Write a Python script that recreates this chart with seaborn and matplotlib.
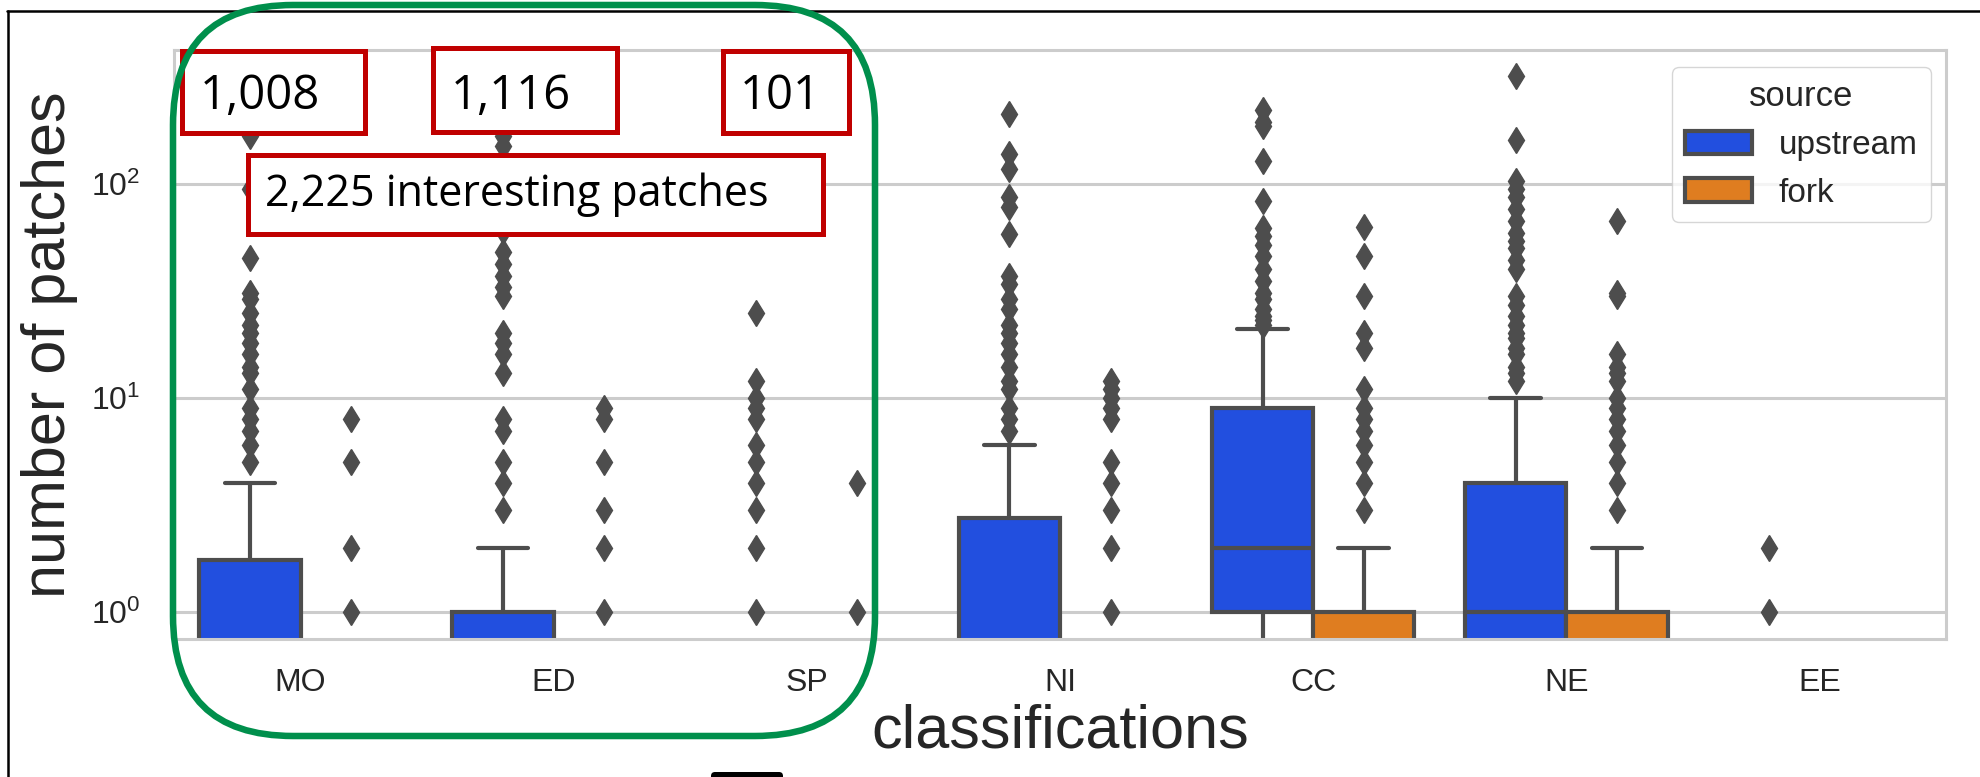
import numpy as np
import pandas as pd
import seaborn as sns
import matplotlib.pyplot as plt
from matplotlib.patches import Rectangle, FancyBboxPatch
from matplotlib.lines import Line2D
from matplotlib.transforms import IdentityTransform

W, H = 1980, 777

classes = ['MO', 'ED', 'SP', 'NI', 'CC', 'NE', 'EE']
sources = ['upstream', 'fork']

# how many entries have 0, 1, 2, ... patches, then the bigger values one by one
mo_up_low = [44, 17, 1, 1, 1]
mo_up_high = [5, 6, 7, 8, 9, 11, 13, 14, 16, 18, 20, 22, 25, 29, 31, 45, 94, 167]
mo_fk_low = [36, 1, 1]
mo_fk_high = [5, 8]

ed_up_low = [60, 20, 2]
ed_up_high = [3, 4, 5, 7, 8, 13, 16, 18, 20, 30, 33, 37, 42, 48, 60, 80, 110, 150, 167]
ed_fk_low = [40, 1, 1, 1]
ed_fk_high = [5, 8, 9]

sp_up_low = [60, 1, 1, 1, 1]
sp_up_high = [5, 6, 8, 9, 10, 12, 25]
sp_fk_low = [20, 1, 0, 0, 1]
sp_fk_high = []

ni_up_low = [52, 14, 7, 2, 1, 1, 1]
ni_up_high = [7, 8, 9, 11, 12, 14, 16, 18, 20, 22, 26, 29, 34, 37, 58, 78, 87, 117, 138, 211]
ni_fk_low = [40, 1, 1, 1, 1, 1]
ni_fk_high = [8, 9, 10, 11, 12]

cc_up_low = [15, 20, 17, 6, 5, 4, 3, 3, 2, 3]
cc_up_high = [11, 12, 14, 16, 18, 21, 22, 23, 24, 26, 29, 31, 35, 40, 46, 52, 57, 62, 83, 127, 186, 195, 221]
cc_fk_low = [55, 25, 8]
cc_fk_high = [3, 4, 5, 6, 7, 8, 9, 11, 17, 20, 30, 46, 63]

ne_up_low = [45, 30, 7, 6, 5, 1, 1, 1, 1, 0, 1]
ne_up_high = [12, 13, 14, 16, 17, 19, 20, 22, 24, 27, 30, 40, 44, 50, 54, 59, 67, 76, 87, 94, 103, 160, 317]
ne_fk_low = [55, 25, 6]
ne_fk_high = [3, 4, 5, 6, 7, 8, 9, 10, 12, 13, 14, 16, 30, 31, 67]

ee_up_low = [20, 1, 1]
ee_up_high = []
ee_fk_low = [10]
ee_fk_high = []

groups = [
    ('MO', 'upstream', mo_up_low, mo_up_high), ('MO', 'fork', mo_fk_low, mo_fk_high),
    ('ED', 'upstream', ed_up_low, ed_up_high), ('ED', 'fork', ed_fk_low, ed_fk_high),
    ('SP', 'upstream', sp_up_low, sp_up_high), ('SP', 'fork', sp_fk_low, sp_fk_high),
    ('NI', 'upstream', ni_up_low, ni_up_high), ('NI', 'fork', ni_fk_low, ni_fk_high),
    ('CC', 'upstream', cc_up_low, cc_up_high), ('CC', 'fork', cc_fk_low, cc_fk_high),
    ('NE', 'upstream', ne_up_low, ne_up_high), ('NE', 'fork', ne_fk_low, ne_fk_high),
    ('EE', 'upstream', ee_up_low, ee_up_high), ('EE', 'fork', ee_fk_low, ee_fk_high),
]

rows = []
for cls, src, low, high in groups:
    vals = list(np.repeat(np.arange(len(low)), low)) + list(high)
    for v in vals:
        rows.append((cls, src, float(v)))
df = pd.DataFrame(rows, columns=['classifications', 'source', 'patches'])

sns.set_theme(style='whitegrid')
plt.rcParams['font.family'] = ['Liberation Sans', 'DejaVu Sans']

fig = plt.figure(figsize=(W / 100, H / 100), dpi=100)
ax = fig.add_axes([174 / W, 1 - 639 / H, (1946 - 174) / W, (639 - 50) / H])

sns.boxplot(data=df, x='classifications', y='patches', hue='source',
            order=classes, hue_order=sources, palette='bright',
            linecolor='.3', linewidth=3, ax=ax,
            flierprops=dict(marker='d', markersize=13, markerfacecolor='.3',
                            markeredgecolor='.3'))
ax.set_yscale('log')
ax.set_ylim(0.748, 421)
ax.set_xlim(-0.5, 6.5)

ax.yaxis.grid(True, color='#cccccc', linewidth=2.2)
ax.xaxis.grid(False)
for s in ax.spines.values():
    s.set_color('#cccccc')
    s.set_linewidth(2.2)

ax.tick_params(axis='x', labelsize=23, length=0, pad=21)
ax.tick_params(axis='y', labelsize=23, length=0, pad=24)
ax.tick_params(axis='y', which='minor', length=0)
ax.set_xlabel('classifications', fontsize=44)
ax.set_ylabel('number of patches', fontsize=44)
ax.xaxis.set_label_coords(0.5, -0.1087)
ax.yaxis.set_label_coords(-0.0542, 0.5)

sns.move_legend(ax, 'upper right', bbox_to_anchor=(0.9915, 0.971),
                borderaxespad=0, fontsize=24, title_fontsize=25, frameon=True)

# red call-out boxes
ann_font = ['Open Sans', 'DejaVu Sans']
def red_box(x0, y0, x1, y1, text, tx, ty, size):
    fig.add_artist(Rectangle((x0 / W, 1 - y1 / H), (x1 - x0) / W, (y1 - y0) / H,
                             transform=fig.transFigure, facecolor='white',
                             edgecolor='#c00000', linewidth=3.6, zorder=5))
    fig.text(tx / W, 1 - ty / H, text, fontsize=size, family=ann_font,
             ha='left', va='baseline', color='black', zorder=6)

red_box(182, 51, 365, 133, '1,008', 200, 109, 34)
red_box(433, 48, 617, 132, '1,116', 451, 109, 34)
red_box(723, 51, 849, 133, '101', 740, 109, 34)
red_box(248, 155, 823, 234, '2,225 interesting patches', 265, 206, 31)

# green group outline
fig.add_artist(FancyBboxPatch((173, H - 736), 875 - 173, 736 - 5,
                              boxstyle='round,pad=0,rounding_size=120',
                              transform=IdentityTransform(), facecolor='none',
                              edgecolor='#008f4c', linewidth=4.7, zorder=10))

# screenshot frame
fig.add_artist(Line2D([7, W], [H - 10.5, H - 10.5], transform=IdentityTransform(),
                      color='black', linewidth=1.8, zorder=9))
fig.add_artist(Line2D([7.5, 7.5], [0, H - 10.5], transform=IdentityTransform(),
                      color='black', linewidth=1.8, zorder=9))
fig.add_artist(FancyBboxPatch((711, -6), 72, 11, boxstyle='round,pad=0,rounding_size=4',
                              transform=IdentityTransform(), facecolor='black',
                              edgecolor='none', zorder=9))

fig.savefig('out.png', dpi=100)
